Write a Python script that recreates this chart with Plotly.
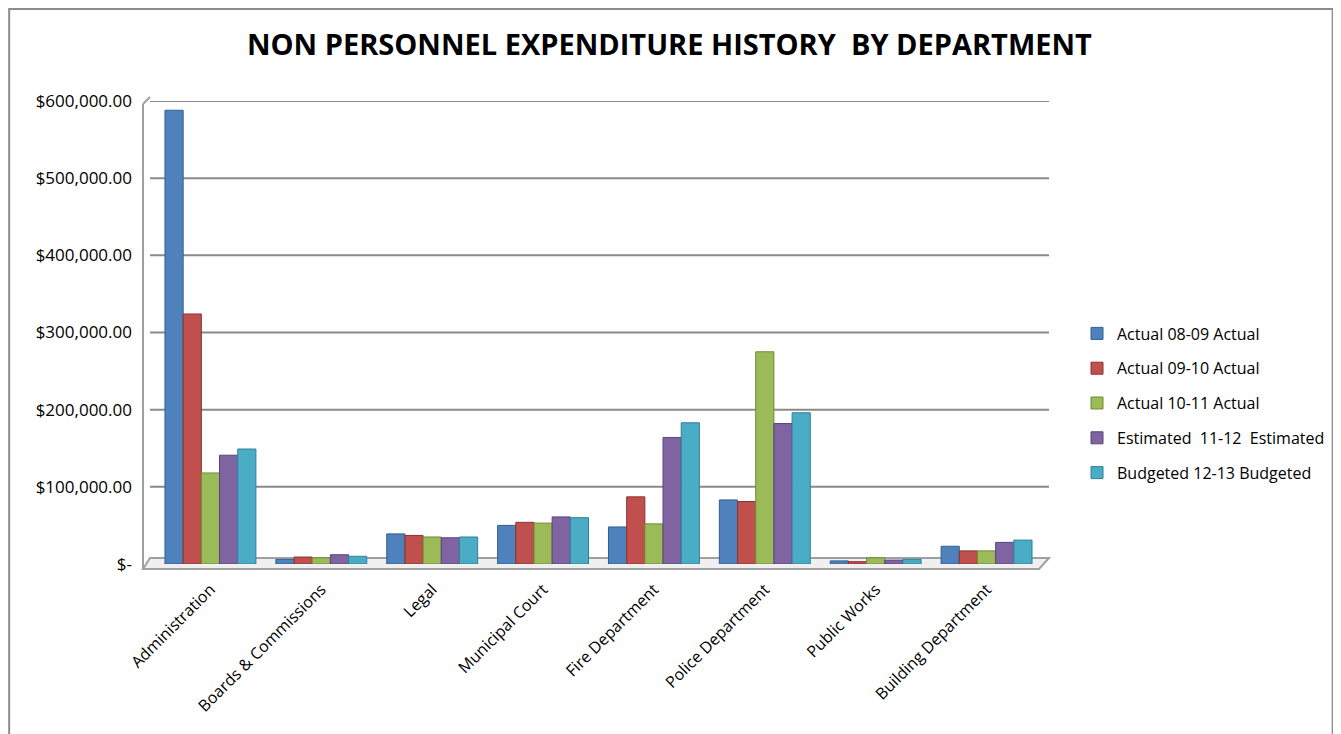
import plotly.graph_objects as go

categories = ["Administration", "Boards & Commissions", "Legal", "Municipal Court",
              "Fire Department", "Police Department", "Public Works", "Building Department"]

series_names = ["Actual 08-09 Actual", "Actual 09-10 Actual", "Actual 10-11 Actual",
                "Estimated  11-12  Estimated", "Budgeted 12-13 Budgeted"]

actual_08_09 = [588000, 6000, 39000, 50000, 48000, 83000, 4000, 23000]
actual_09_10 = [324000, 9000, 37000, 54000, 87000, 81000, 3000, 17000]
actual_10_11 = [118000, 8000, 35000, 53000, 52000, 275000, 8000, 17000]
estimated_11_12 = [141000, 12000, 34000, 61000, 164000, 182000, 5000, 28000]
budgeted_12_13 = [149000, 10000, 35000, 60000, 183000, 196000, 6000, 31000]

series_values = [actual_08_09, actual_09_10, actual_10_11, estimated_11_12, budgeted_12_13]

tick_vals = [0, 100000, 200000, 300000, 400000, 500000, 600000]
tick_text = ["$-", "$100,000.00", "$200,000.00", "$300,000.00", "$400,000.00",
             "$500,000.00", "$600,000.00"]

colors = ["#4F81BD", "#C0504D", "#9BBB59", "#8064A2", "#4BACC6"]
edge_colors = ["#2F5F94", "#8E3230", "#6F8C36", "#594479", "#2E8199"]

FONT = "Open Sans"

fig = go.Figure()
for i, (name, vals) in enumerate(zip(series_names, series_values)):
    fig.add_trace(go.Bar(
        x=categories, y=vals, name=name,
        legendgroup=f"g{i}",
        marker=dict(color=colors[i], line=dict(color=edge_colors[i], width=1)),
    ))

# page has an 8px body margin; work in screen pixels and convert
OFF = 8
W, H = 1341 - OFF, 734 - OFF
# screen positions of plot area
SL, SR, ST, SB = 155, 1043, 101, 564
L, T = SL - OFF, ST - OFF
R = W - (SR - OFF)
B = H - (SB - OFF)
pw, ph = W - L - R, H - T - B

def px(x):
    return (x - OFF - L) / pw

def py(y):
    return (H - B - (y - OFF)) / ph

shapes = [
    # outer chart border (left, top, right)
    dict(type="path", xref="paper", yref="paper",
         path=f"M {px(9)} {py(734)} L {px(9)} {py(9)} L {px(1334)} {py(9)} L {px(1334)} {py(734)}",
         line=dict(color="#8c8c8c", width=2), layer="below"),
    # 3D floor
    dict(type="path", xref="paper", yref="paper",
         path=f"M {px(143)} {py(569)} L {px(1040)} {py(569)} L {px(1050)} {py(558)} L {px(150)} {py(558)} Z",
         line=dict(color="#a0a0a0", width=2), fillcolor="rgba(230,230,230,0.6)", layer="below"),
    # 3D left wall front edge
    dict(type="line", xref="paper", yref="paper",
         x0=px(143), x1=px(143), y0=py(569), y1=py(104),
         line=dict(color="#a0a0a0", width=2), layer="below"),
    dict(type="line", xref="paper", yref="paper",
         x0=px(143), x1=px(150), y0=py(104), y1=py(97),
         line=dict(color="#a0a0a0", width=2), layer="below"),
]
# back-wall gridlines at the tick values
for v in tick_vals[1:]:
    shapes.append(dict(type="line", xref="paper", yref="y",
                       x0=px(150), x1=px(1050), y0=v, y1=v,
                       line=dict(color="#8a8a8a", width=2), layer="below"))

fig.update_layout(
    width=W, height=H,
    margin=dict(l=L, r=R, t=T, b=B),
    paper_bgcolor="white", plot_bgcolor="white",
    font=dict(family=FONT, color="black", size=14),
    title=dict(text="<b>NON PERSONNEL EXPENDITURE HISTORY  BY DEPARTMENT</b>",
               x=px(670), xanchor="center", xref="paper",
               y=1 - (45 - OFF) / H, yanchor="middle",
               font=dict(family=FONT, size=29, color="black")),
    barmode="group", bargap=0.18, bargroupgap=0.0,
    showlegend=True,
    legend=dict(x=px(1077), xanchor="left", y=py(403), yanchor="middle",
                font=dict(family=FONT, size=16), tracegroupgap=11,
                traceorder="grouped", bgcolor="rgba(0,0,0,0)"),
    shapes=shapes,
)

fig.update_xaxes(
    tickangle=-45, showgrid=False, showline=False,
    tickfont=dict(family=FONT, size=16), ticks="", zeroline=False,
    ticklabelstandoff=12,
)
fig.update_yaxes(
    range=[0, 600000], tickvals=tick_vals, ticktext=tick_text,
    showgrid=False, zeroline=False, showline=False,
    tickfont=dict(family=FONT, size=17), ticklabelstandoff=22,
)

fig.write_html("out.html")
